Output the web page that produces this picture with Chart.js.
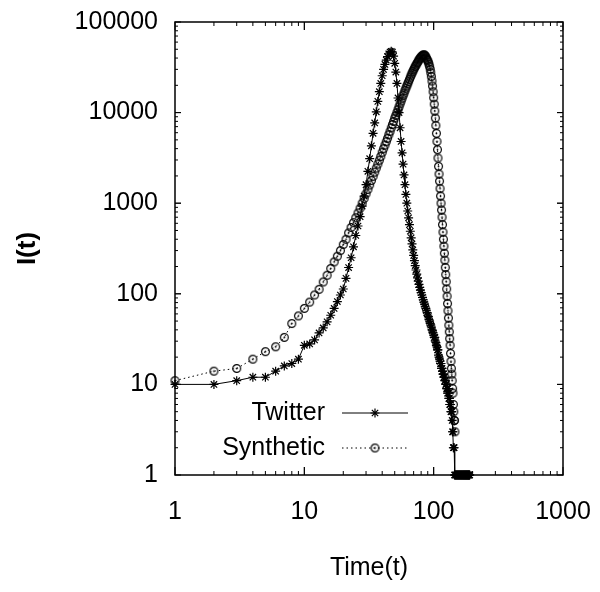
<!DOCTYPE html>
<html>
<head>
<meta charset="utf-8">
<script src="https://cdn.jsdelivr.net/npm/chart.js@4/dist/chart.umd.min.js"></script>
<style>
  html, body { margin: 0; padding: 0; background: #fff; }
</style>
</head>
<body>
<canvas id="chart" width="600" height="592"></canvas>
<script>
// I(t), one value per time step starting at t = 1
const startTime = 1;

const twitterValues = [
  10, 10, 11, 12, 12, 14, 16, 17, 19, 27,
  28, 31, 37, 42, 49, 58, 69, 82, 97, 113,
  148, 195, 250, 330, 440, 560, 710, 930, 1200, 1600,
  2250, 3100, 4300, 5900, 7700, 10200, 13300, 17000, 21000, 25500,
  30000, 34000, 38000, 41500, 44500, 46500, 47500, 46500, 42000, 35000,
  28000, 21000, 14500, 10000, 6800, 4800, 3600, 2700, 2050, 1600,
  1250, 1000, 820, 690, 580, 490, 415, 355, 305, 265,
  232, 205, 183, 165, 150, 138, 127, 118, 110, 103,
  97, 91, 86, 81, 77, 72, 69, 65, 62, 58,
  56, 52, 50, 47, 45, 43, 40, 39, 37, 35,
  33, 33, 30, 29, 27, 26, 24, 24, 21, 20,
  19, 18, 17, 17, 15, 15, 14, 13, 13, 12,
  12, 11, 11, 10, 10, 9, 9, 8, 9, 8,
  7, 7, 6, 6, 6, 5, 5, 5, 4, 3,
  3, 2, 2, 2, 1, 1, 1, 1, 1, 1,
  1, 1, 1, 1, 1, 1, 1, 1, 1, 1,
  1, 1, 1, 1, 1, 1, 1, 1, 1, 1,
  1, 1, 1, 1, 1, 1, 1, 1, 1, 1,
  1, 1, 1, 1, 1, 1, 1, 1, 1, 1,
];

const syntheticValues = [
  11, 14, 15, 19, 23, 26, 33, 47, 57, 69,
  81, 97, 112, 135, 160, 190, 225, 260, 300, 350,
  400, 470, 540, 610, 690, 780, 880, 1000, 1130, 1270,
  1420, 1590, 1780, 1980, 2200, 2440, 2700, 2980, 3280, 3650,
  4000, 4380, 4780, 5200, 5700, 6200, 6800, 7400, 8000, 8700,
  9300, 10000, 10800, 11600, 12500, 13400, 14400, 15400, 16400, 17500,
  18600, 19700, 20800, 22000, 23300, 24600, 25900, 27200, 28500, 29800,
  31000, 32200, 33400, 34600, 35800, 37000, 38200, 39300, 40300, 41200,
  42000, 42700, 43200, 43400, 43100, 42300, 41200, 39900, 38400, 37500,
  36000, 34200, 32200, 30000, 27600, 25000, 22300, 19600, 17000, 14600,
  12400, 10400, 8700, 7200, 5900, 4800, 3900, 3150, 2550, 2100,
  1750, 1450, 1200, 1000, 840, 700, 580, 480, 400, 335,
  280, 235, 195, 163, 136, 113, 94, 78, 65, 54,
  45, 38, 32, 27, 22, 18, 15, 13, 11, 9,
  8, 6, 5, 4, 4, 3,
];

const xTickValues = [1, 10, 100, 1000];
const yTickValues = [1, 10, 100, 1000, 10000, 100000];

const FONT = '"Liberation Sans", Arial, sans-serif';

function toPoints(values) {
  return values.map((v, i) => ({ x: startTime + i, y: v }));
}

// open circle with a dot in the middle, like the gnuplot marker
function makeCircleMark() {
  const c = document.createElement("canvas");
  c.width = 11;
  c.height = 11;
  const g = c.getContext("2d");
  g.strokeStyle = "#000";
  g.lineWidth = 1.2;
  g.beginPath();
  g.arc(5.5, 5.5, 3.9, 0, Math.PI * 2);
  g.stroke();
  g.fillStyle = "#000";
  g.beginPath();
  g.arc(5.5, 5.5, 0.9, 0, Math.PI * 2);
  g.fill();
  return c;
}

// frame and inward ticks on all four sides
const frameTicks = {
  id: "frameTicks",
  afterDraw(chart) {
    const { ctx, chartArea: a } = chart;
    const xs = chart.scales.x;
    const ys = chart.scales.y;
    ctx.save();
    ctx.strokeStyle = "#000";
    ctx.lineWidth = 1;
    ctx.beginPath();
    for (let d = 1; d < 1000; d *= 10) {
      for (let k = 1; k <= 10; k++) {
        const px = xs.getPixelForValue(d * k);
        const len = k === 1 || k === 10 ? 8 : 4;
        ctx.moveTo(px, a.bottom);
        ctx.lineTo(px, a.bottom - len);
        ctx.moveTo(px, a.top);
        ctx.lineTo(px, a.top + len);
      }
    }
    for (let d = 1; d < 100000; d *= 10) {
      for (let k = 1; k <= 10; k++) {
        const py = ys.getPixelForValue(d * k);
        const len = k === 1 || k === 10 ? 6 : 3;
        ctx.moveTo(a.left, py);
        ctx.lineTo(a.left + len, py);
        ctx.moveTo(a.right, py);
        ctx.lineTo(a.right - len, py);
      }
    }
    ctx.stroke();
    ctx.lineWidth = 1.5;
    ctx.strokeRect(a.left, a.top, a.right - a.left, a.bottom - a.top);
    ctx.restore();
  },
};

// gnuplot style key: label first, then the line sample
const insideLegend = {
  id: "insideLegend",
  afterDraw(chart) {
    const ctx = chart.ctx;
    chart.data.datasets.forEach((ds, i) => {
      const y = 413 + i * 35;
      ctx.save();
      ctx.font = "25px " + FONT;
      ctx.fillStyle = "#000";
      ctx.textAlign = "right";
      ctx.textBaseline = "middle";
      ctx.fillText(ds.label, 325, y);
      ctx.strokeStyle = ds.borderColor;
      ctx.lineWidth = ds.borderWidth;
      ctx.setLineDash(ds.borderDash || []);
      ctx.beginPath();
      ctx.moveTo(342, y);
      ctx.lineTo(408, y);
      ctx.stroke();
      ctx.setLineDash([]);
      ctx.strokeStyle = ds.pointBorderColor;
      ctx.lineWidth = ds.pointBorderWidth;
      Chart.helpers.drawPoint(ctx, {
        pointStyle: ds.pointStyle,
        radius: ds.pointRadius,
        borderWidth: ds.pointBorderWidth,
        rotation: 0,
      }, 375, y);
      ctx.restore();
    });
  },
};

const circleMark = makeCircleMark();

new Chart(document.getElementById("chart").getContext("2d"), {
  type: "line",
  data: {
    datasets: [
      {
        label: "Twitter",
        data: toPoints(twitterValues),
        borderColor: "#000",
        borderWidth: 1,
        pointStyle: "star",
        pointRadius: 4.5,
        pointBorderWidth: 1.2,
        pointBorderColor: "#000",
        pointBackgroundColor: "#000",
        fill: false,
        clip: false,
      },
      {
        label: "Synthetic",
        data: toPoints(syntheticValues),
        borderColor: "#000",
        borderWidth: 1,
        borderDash: [1.5, 3],
        pointStyle: circleMark,
        pointRadius: 4,
        pointBorderWidth: 1,
        pointBorderColor: "#000",
        fill: false,
        clip: false,
      },
    ],
  },
  options: {
    responsive: false,
    animation: false,
    events: [],
    devicePixelRatio: 1,
    layout: { padding: { left: 0, right: 37, top: 22, bottom: 0 } },
    plugins: { legend: { display: false }, tooltip: { enabled: false } },
    scales: {
      x: {
        type: "logarithmic",
        min: 1,
        max: 1000,
        afterBuildTicks: (s) => { s.ticks = xTickValues.map((v) => ({ value: v })); },
        afterFit: (s) => {
          s.height = 117;
          s.paddingLeft = 0;
          s.paddingRight = 0;
        },
        grid: { display: false, drawTicks: false },
        border: { display: false },
        ticks: {
          color: "#000",
          padding: 22,
          maxRotation: 0,
          font: { family: FONT, size: 25 },
          callback: (v) => String(v),
        },
        title: {
          display: true,
          text: "Time(t)",
          color: "#000",
          font: { family: FONT, size: 25 },
          padding: { top: 0, bottom: 9 },
        },
      },
      y: {
        type: "logarithmic",
        min: 1,
        max: 100000,
        afterBuildTicks: (s) => { s.ticks = yTickValues.map((v) => ({ value: v })); },
        afterFit: (s) => {
          s.width = 175;
          s.paddingTop = 0;
          s.paddingBottom = 0;
        },
        grid: { display: false, drawTicks: false },
        border: { display: false },
        ticks: {
          color: "#000",
          padding: 17,
          font: { family: FONT, size: 25 },
          callback: (v) => String(v),
        },
        title: {
          display: true,
          text: "I(t)",
          color: "#000",
          font: { family: FONT, size: 26, weight: "bold" },
          padding: { top: 12, bottom: 0 },
        },
      },
    },
  },
  plugins: [frameTicks, insideLegend],
});
</script>
</body>
</html>
